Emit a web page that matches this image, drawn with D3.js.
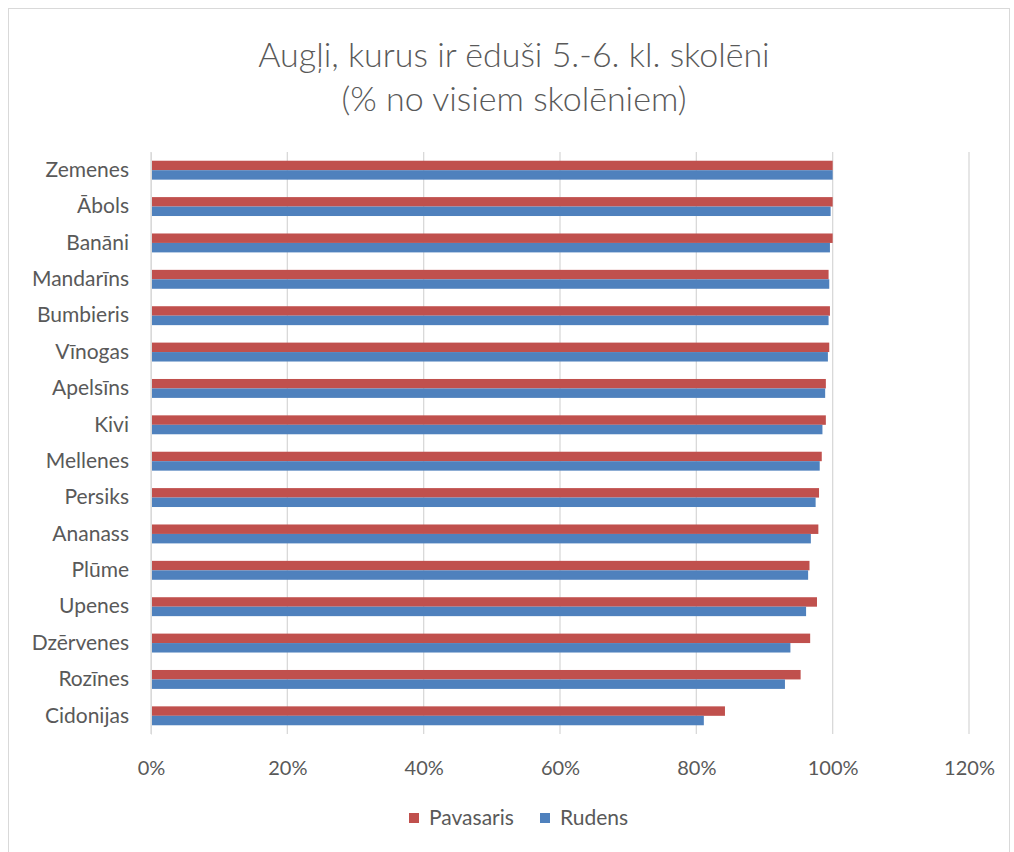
<!DOCTYPE html>
<html><head><meta charset="utf-8">
<script src="https://cdn.jsdelivr.net/npm/d3@7"></script>
<style>body{margin:0;background:#fff}svg{display:block}text{font-family:Lato,"Open Sans",sans-serif}</style>
</head><body><svg id="c" width="1014" height="852"></svg>
<script>
const categories = ["Zemenes","Ābols","Banāni","Mandarīns","Bumbieris","Vīnogas","Apelsīns","Kivi","Mellenes","Persiks","Ananass","Plūme","Upenes","Dzērvenes","Rozīnes","Cidonijas"];
const pavasaris = [100,100,100,99.4,99.6,99.5,99.0,99.0,98.4,98.0,97.9,96.6,97.7,96.7,95.3,84.2];
const rudens = [100,99.7,99.6,99.5,99.4,99.3,98.9,98.5,98.1,97.5,96.8,96.4,96.1,93.8,93.0,81.1];
const seriesNames = ["Pavasaris","Rudens"];
const colors = ["#C0504D","#4F81BD"];
const xTicks = [0,20,40,60,80,100,120];
const titleLines = ["Augļi, kurus ir ēduši 5.-6. kl. skolēni","(% no visiem skolēniem)"];

const svg = d3.select("#c");
svg.append("rect").attr("x",8.5).attr("y",8.5).attr("width",1001).attr("height",880)
  .attr("fill","#fff").attr("stroke","#D9D9D9");

const m = {l:151,r:969,t:152,b:734};
const x = d3.scaleLinear().domain([0,120]).range([m.l,m.r]);
const y = d3.scaleBand().domain(categories).range([m.t,m.b]).paddingInner(0.48).paddingOuter(0.24);
const y2 = d3.scaleBand().domain(seriesNames).range([0,y.bandwidth()]);

svg.append("g").selectAll("line").data(xTicks).join("line")
  .attr("x1",d=>x(d)).attr("x2",d=>x(d)).attr("y1",m.t).attr("y2",m.b)
  .attr("stroke","#D9D9D9").attr("stroke-width",1.3);

const data = [pavasaris, rudens];
data.forEach((vals,si)=>{
  svg.append("g").selectAll("rect").data(vals).join("rect")
    .attr("x",x(0)).attr("y",(d,i)=>y(categories[i])+y2(seriesNames[si]))
    .attr("width",d=>x(d)-x(0)).attr("height",y2.bandwidth())
    .attr("fill",colors[si]);
});

const xa = svg.append("g").attr("transform",`translate(0,${m.b})`)
  .call(d3.axisBottom(x).tickValues(xTicks).tickFormat(d=>d+"%").tickSize(0).tickPadding(27));
xa.select(".domain").remove();
xa.selectAll("text").attr("font-size",20).attr("fill","#595959").style("font-family","Lato,'Open Sans',sans-serif");

const ya = svg.append("g").attr("transform",`translate(${m.l},0)`)
  .call(d3.axisLeft(y).tickSize(0).tickPadding(22));
ya.select(".domain").attr("stroke","#D9D9D9");
ya.selectAll("text").attr("font-size",21).attr("fill","#595959").style("font-family","Lato,'Open Sans',sans-serif");

svg.append("g").selectAll("text").data(titleLines).join("text")
  .attr("x",514).attr("y",(d,i)=>67+i*44).attr("text-anchor","middle")
  .attr("font-size",34).attr("font-weight",300).attr("fill","#595959").text(d=>d);

const lg = svg.append("g");
const lx = [409,540];
seriesNames.forEach((s,i)=>{
  lg.append("rect").attr("x",lx[i]).attr("y",813).attr("width",10).attr("height",10).attr("fill",colors[i]);
  lg.append("text").attr("x",lx[i]+20).attr("y",825).attr("font-size",21).attr("fill","#595959").text(s);
});
</script></body></html>
